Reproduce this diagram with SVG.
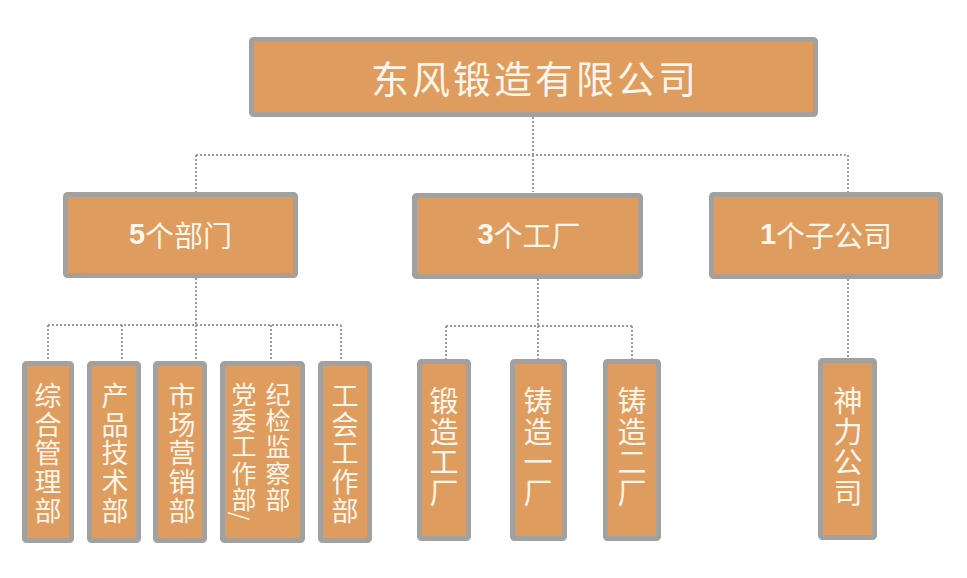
<svg xmlns="http://www.w3.org/2000/svg" width="967" height="578" viewBox="0 0 967 578">
<style>
.box{fill:#DE9C5E;stroke:#A3A19E;stroke-width:5}
.conn{fill:none;stroke:#9C9C9C;stroke-width:2;stroke-dasharray:2 2}
.t{fill:#FFF6EA;font-family:"Noto Sans CJK SC","Liberation Sans",sans-serif;text-anchor:middle;dominant-baseline:central}
.title{font-size:38px;letter-spacing:3px}
.mid{font-size:29px}
.num{font-family:"Liberation Sans",sans-serif;font-weight:bold}
.v{font-size:27px}
.v4{font-size:25px}
.vf{font-size:29px}
</style>
<rect width="967" height="578" fill="#FFFFFF"/>
<g id="connectors">
<path class="conn" d="M533 117V155M196 155H848M196 155V192M533 155V192M848 155V192"/>
<path class="conn" d="M196 278V325M48 325H341M48 325V361M122 325V361M196 325V361M271 325V361M341 325V361"/>
<path class="conn" d="M538 279V326M446 326H632M446 326V359M538 326V359M632 326V359"/>
<path class="conn" d="M848 279V358"/>
</g>
<g id="root">
<rect class="box" x="251.5" y="39.5" width="564" height="75" rx="2"/>
<text class="t title" x="535" y="76">东风锻造有限公司</text>
</g>
<g id="dept">
<rect class="box" x="65.5" y="194.5" width="230" height="81" rx="2"/>
<text class="t mid" x="180.5" y="234"><tspan class="num">5</tspan>个部门</text>
</g>
<g id="factory">
<rect class="box" x="414.5" y="195.5" width="226" height="81" rx="2"/>
<text class="t mid" x="529" y="234"><tspan class="num">3</tspan>个工厂</text>
</g>
<g id="subsidiary">
<rect class="box" x="711.5" y="194.5" width="229" height="82" rx="2"/>
<text class="t mid" x="826" y="234"><tspan class="num">1</tspan>个子公司</text>
</g>
<g id="d1">
<rect class="box" x="24.5" y="363.5" width="47" height="177" rx="2"/>
<text class="t v" x="48"><tspan x="48" y="394">综</tspan><tspan x="48" y="422.7">合</tspan><tspan x="48" y="451.4">管</tspan><tspan x="48" y="480.1">理</tspan><tspan x="48" y="508.8">部</tspan></text>
</g>
<g id="d2">
<rect class="box" x="89.5" y="363.5" width="49" height="177" rx="2"/>
<text class="t v" x="115"><tspan x="115" y="394">产</tspan><tspan x="115" y="422.7">品</tspan><tspan x="115" y="451.4">技</tspan><tspan x="115" y="480.1">术</tspan><tspan x="115" y="508.8">部</tspan></text>
</g>
<g id="d3">
<rect class="box" x="155.5" y="363.5" width="49" height="177" rx="2"/>
<text class="t v" x="182"><tspan x="182" y="394">市</tspan><tspan x="182" y="422.7">场</tspan><tspan x="182" y="451.4">营</tspan><tspan x="182" y="480.1">销</tspan><tspan x="182" y="508.8">部</tspan></text>
</g>
<g id="d4">
<rect class="box" x="222.5" y="363.5" width="80" height="177" rx="2"/>
<text class="t v4" x="278"><tspan x="278" y="393">纪</tspan><tspan x="278" y="419.2">检</tspan><tspan x="278" y="445.4">监</tspan><tspan x="278" y="471.6">察</tspan><tspan x="278" y="497.8">部</tspan></text>
<text class="t v4" x="244"><tspan x="244" y="393">党</tspan><tspan x="244" y="419.2">委</tspan><tspan x="244" y="445.4">工</tspan><tspan x="244" y="471.6">作</tspan><tspan x="244" y="497.8">部</tspan></text>
<text class="t" x="242" y="516" font-size="22" font-family="Liberation Sans,sans-serif" transform="rotate(90 242 516)">/</text>
</g>
<g id="d5">
<rect class="box" x="320.5" y="363.5" width="49" height="177" rx="2"/>
<text class="t v" x="345"><tspan x="345" y="394">工</tspan><tspan x="345" y="422.7">会</tspan><tspan x="345" y="451.4">工</tspan><tspan x="345" y="480.1">作</tspan><tspan x="345" y="508.8">部</tspan></text>
</g>
<g id="f1">
<rect class="box" x="419.5" y="361.5" width="49" height="177" rx="2"/>
<text class="t vf" x="444"><tspan x="444" y="399">锻</tspan><tspan x="444" y="429.5">造</tspan><tspan x="444" y="460">工</tspan><tspan x="444" y="490.5">厂</tspan></text>
</g>
<g id="f2">
<rect class="box" x="512.5" y="361.5" width="52" height="177" rx="2"/>
<text class="t vf" x="538"><tspan x="538" y="399">铸</tspan><tspan x="538" y="429.5">造</tspan><tspan x="538" y="460">一</tspan><tspan x="538" y="490.5">厂</tspan></text>
</g>
<g id="f3">
<rect class="box" x="605.5" y="361.5" width="53" height="177" rx="2"/>
<text class="t vf" x="632"><tspan x="632" y="399">铸</tspan><tspan x="632" y="429.5">造</tspan><tspan x="632" y="460">二</tspan><tspan x="632" y="490.5">厂</tspan></text>
</g>
<g id="s1">
<rect class="box" x="820.5" y="360.5" width="54" height="177" rx="2"/>
<text class="t vf" x="848"><tspan x="848" y="399">神</tspan><tspan x="848" y="429.5">力</tspan><tspan x="848" y="460">公</tspan><tspan x="848" y="490.5">司</tspan></text>
</g>
</svg>
